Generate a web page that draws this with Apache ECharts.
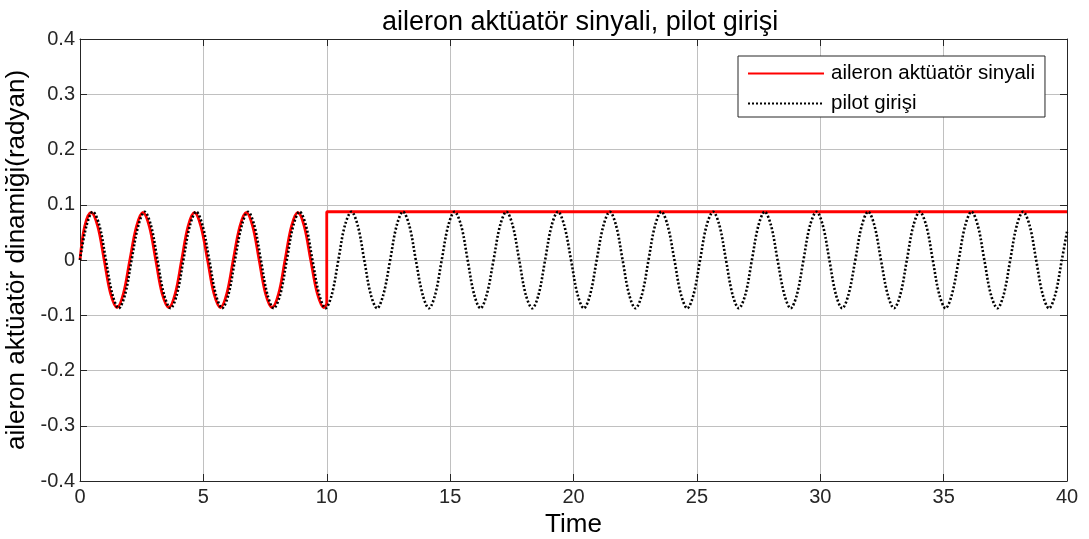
<!DOCTYPE html>
<html>
<head>
<meta charset="utf-8">
<title>aileron aktüatör sinyali, pilot girişi</title>
<script src="https://cdn.jsdelivr.net/npm/echarts@6/dist/echarts.min.js"></script>
<style>
  html, body { margin: 0; padding: 0; background: #fff; }
  #chart { width: 1089px; height: 539px; }
</style>
</head>
<body>
<div id="chart"></div>
<script>
// Pilot input (rad): sampled eight times per period of the sine command
const pilotTime = [
  0, 0.26, 0.52, 0.79, 1.05, 1.31, 1.57, 1.83,
  2.09, 2.36, 2.62, 2.88, 3.14, 3.40, 3.67, 3.93,
  4.19, 4.45, 4.71, 4.97, 5.24, 5.50, 5.76, 6.02,
  6.28, 6.55, 6.81, 7.07, 7.33, 7.59, 7.85, 8.12,
  8.38, 8.64, 8.90, 9.16, 9.42, 9.69, 9.95, 10.21,
  10.47, 10.73, 11.00, 11.26, 11.52, 11.78, 12.04, 12.30,
  12.57, 12.83, 13.09, 13.35, 13.61, 13.88, 14.14, 14.40,
  14.66, 14.92, 15.18, 15.45, 15.71, 15.97, 16.23, 16.49,
  16.76, 17.02, 17.28, 17.54, 17.80, 18.06, 18.33, 18.59,
  18.85, 19.11, 19.37, 19.63, 19.90, 20.16, 20.42, 20.68,
  20.94, 21.21, 21.47, 21.73, 21.99, 22.25, 22.51, 22.78,
  23.04, 23.30, 23.56, 23.82, 24.09, 24.35, 24.61, 24.87,
  25.13, 25.39, 25.66, 25.92, 26.18, 26.44, 26.70, 26.97,
  27.23, 27.49, 27.75, 28.01, 28.27, 28.54, 28.80, 29.06,
  29.32, 29.58, 29.85, 30.11, 30.37, 30.63, 30.89, 31.15,
  31.42, 31.68, 31.94, 32.20, 32.46, 32.73, 32.99, 33.25,
  33.51, 33.77, 34.03, 34.30, 34.56, 34.82, 35.08, 35.34,
  35.61, 35.87, 36.13, 36.39, 36.65, 36.91, 37.18, 37.44,
  37.70, 37.96, 38.22, 38.49, 38.75, 39.01, 39.27, 39.53,
  39.79, 40
];
const pilotValue = [
  0, 0.0617, 0.0873, 0.0617, 0, -0.0617, -0.0873, -0.0617,
  0, 0.0617, 0.0873, 0.0617, 0, -0.0617, -0.0873, -0.0617,
  0, 0.0617, 0.0873, 0.0617, 0, -0.0617, -0.0873, -0.0617,
  0, 0.0617, 0.0873, 0.0617, 0, -0.0617, -0.0873, -0.0617,
  0, 0.0617, 0.0873, 0.0617, 0, -0.0617, -0.0873, -0.0617,
  0, 0.0617, 0.0873, 0.0617, 0, -0.0617, -0.0873, -0.0617,
  0, 0.0617, 0.0873, 0.0617, 0, -0.0617, -0.0873, -0.0617,
  0, 0.0617, 0.0873, 0.0617, 0, -0.0617, -0.0873, -0.0617,
  0, 0.0617, 0.0873, 0.0617, 0, -0.0617, -0.0873, -0.0617,
  0, 0.0617, 0.0873, 0.0617, 0, -0.0617, -0.0873, -0.0617,
  0, 0.0617, 0.0873, 0.0617, 0, -0.0617, -0.0873, -0.0617,
  0, 0.0617, 0.0873, 0.0617, 0, -0.0617, -0.0873, -0.0617,
  0, 0.0617, 0.0873, 0.0617, 0, -0.0617, -0.0873, -0.0617,
  0, 0.0617, 0.0873, 0.0617, 0, -0.0617, -0.0873, -0.0617,
  0, 0.0617, 0.0873, 0.0617, 0, -0.0617, -0.0873, -0.0617,
  0, 0.0617, 0.0873, 0.0617, 0, -0.0617, -0.0873, -0.0617,
  0, 0.0617, 0.0873, 0.0617, 0, -0.0617, -0.0873, -0.0617,
  0, 0.0617, 0.0873, 0.0617, 0, -0.0617, -0.0873, -0.0617,
  0, 0.0617, 0.0873, 0.0617, 0, -0.0617, -0.0873, -0.0617,
  0, 0.051
];

// Actuator signal while it follows the pilot (t <= 10 s)
const actuatorTime = [
  0, 0.19, 0.45, 0.72, 0.98, 1.24, 1.50, 1.76,
  2.02, 2.29, 2.55, 2.81, 3.07, 3.33, 3.60, 3.86,
  4.12, 4.38, 4.64, 4.90, 5.17, 5.43, 5.69, 5.95,
  6.21, 6.48, 6.74, 7.00, 7.26, 7.52, 7.78, 8.05,
  8.31, 8.57, 8.83, 9.09, 9.35, 9.62, 9.88, 10.00
];
const actuatorValue = [
  0, 0.061, 0.086, 0.061, 0, -0.061, -0.086, -0.061,
  0, 0.061, 0.086, 0.061, 0, -0.061, -0.086, -0.061,
  0, 0.061, 0.086, 0.061, 0, -0.061, -0.086, -0.061,
  0, 0.061, 0.086, 0.061, 0, -0.061, -0.086, -0.061,
  0, 0.061, 0.086, 0.061, 0, -0.061, -0.086, -0.080
];
// Actuator held at its limit after the jump at t = 10 s
const actuatorHoldTime = [10, 10, 40];
const actuatorHoldValue = [-0.080, 0.0873, 0.0873];

const xTicks = { min: 0, max: 40, interval: 5 };
const yTicks = { min: -0.4, max: 0.4, interval: 0.1 };

const titleText = 'aileron aktüatör sinyali, pilot girişi';
const xName = 'Time';
const yName = 'aileron aktüatör dinamiği(radyan)';
const seriesNames = ['aileron aktüatör sinyali', 'pilot girişi'];

const zip = (xs, ys) => xs.map((x, i) => [x, ys[i]]);

const font = "'Liberation Sans', Arial, sans-serif";
const ink = '#262626';
const gridColor = '#c0c0c0';

const chart = echarts.init(document.getElementById('chart'), null, { renderer: 'canvas' });

const axisLine = { show: true, onZero: false, lineStyle: { color: ink, width: 1 } };
const tickIn = { show: true, inside: true, length: 7, lineStyle: { color: ink } };

chart.setOption({
  animation: false,
  backgroundColor: '#fff',
  title: {
    text: titleText,
    left: 377,
    top: 4,
    textStyle: { fontFamily: font, fontSize: 27, fontWeight: 'normal', color: '#000' }
  },
  grid: { left: 80, right: 22, top: 39, bottom: 58, containLabel: false, outerBoundsMode: 'none' },
  legend: {
    orient: 'vertical',
    left: 738,
    top: 56,
    padding: [7, 10, 3, 9],
    itemWidth: 76,
    itemHeight: 20,
    itemGap: 9,
    backgroundColor: '#fff',
    borderColor: ink,
    borderWidth: 1,
    borderRadius: 0,
    data: seriesNames,
    // only the line sample is shown, no marker
    itemStyle: { opacity: 0 },
    textStyle: { fontFamily: font, fontSize: 20.5, color: '#000', padding: [0, 0, 0, 2] }
  },
  xAxis: [
    {
      type: 'value',
      position: 'bottom',
      min: xTicks.min, max: xTicks.max, interval: xTicks.interval,
      name: xName,
      nameLocation: 'middle',
      nameGap: 29,
      nameTextStyle: { fontFamily: font, fontSize: 26, color: '#000' },
      axisLine: axisLine,
      axisTick: tickIn,
      axisLabel: { fontFamily: font, fontSize: 20, color: ink, margin: 6 },
      splitLine: { show: true, lineStyle: { color: gridColor, width: 1 } }
    },
    {
      type: 'value',
      position: 'top',
      min: xTicks.min, max: xTicks.max, interval: xTicks.interval,
      axisLine: axisLine,
      axisTick: tickIn,
      axisLabel: { show: false },
      splitLine: { show: false }
    }
  ],
  yAxis: [
    {
      type: 'value',
      position: 'left',
      min: yTicks.min, max: yTicks.max, interval: yTicks.interval,
      name: yName,
      nameLocation: 'middle',
      nameRotate: 90,
      nameGap: 39,
      nameTextStyle: { fontFamily: font, fontSize: 26, color: '#000' },
      axisLine: axisLine,
      axisTick: tickIn,
      axisLabel: { fontFamily: font, fontSize: 20, color: ink, margin: 5 },
      splitLine: { show: true, lineStyle: { color: gridColor, width: 1 } }
    },
    {
      type: 'value',
      position: 'right',
      min: yTicks.min, max: yTicks.max, interval: yTicks.interval,
      axisLine: axisLine,
      axisTick: tickIn,
      axisLabel: { show: false },
      splitLine: { show: false }
    }
  ],
  series: [
    {
      name: seriesNames[0],
      type: 'line',
      data: zip(actuatorTime, actuatorValue),
      smooth: 0.35,
      showSymbol: false,
      symbol: 'none',
      color: '#ff0000',
      lineStyle: { color: '#ff0000', width: 2.8 },
      z: 3
    },
    {
      name: seriesNames[0],
      type: 'line',
      data: zip(actuatorHoldTime, actuatorHoldValue),
      smooth: false,
      showSymbol: false,
      symbol: 'none',
      color: '#ff0000',
      lineStyle: { color: '#ff0000', width: 2.8 },
      z: 3
    },
    {
      name: seriesNames[1],
      type: 'line',
      data: zip(pilotTime, pilotValue),
      smooth: 0.35,
      showSymbol: false,
      symbol: 'none',
      color: '#000',
      lineStyle: { color: '#000', width: 2.6, type: [2, 2], cap: 'butt' },
      z: 4
    }
  ]
});
</script>
</body>
</html>
